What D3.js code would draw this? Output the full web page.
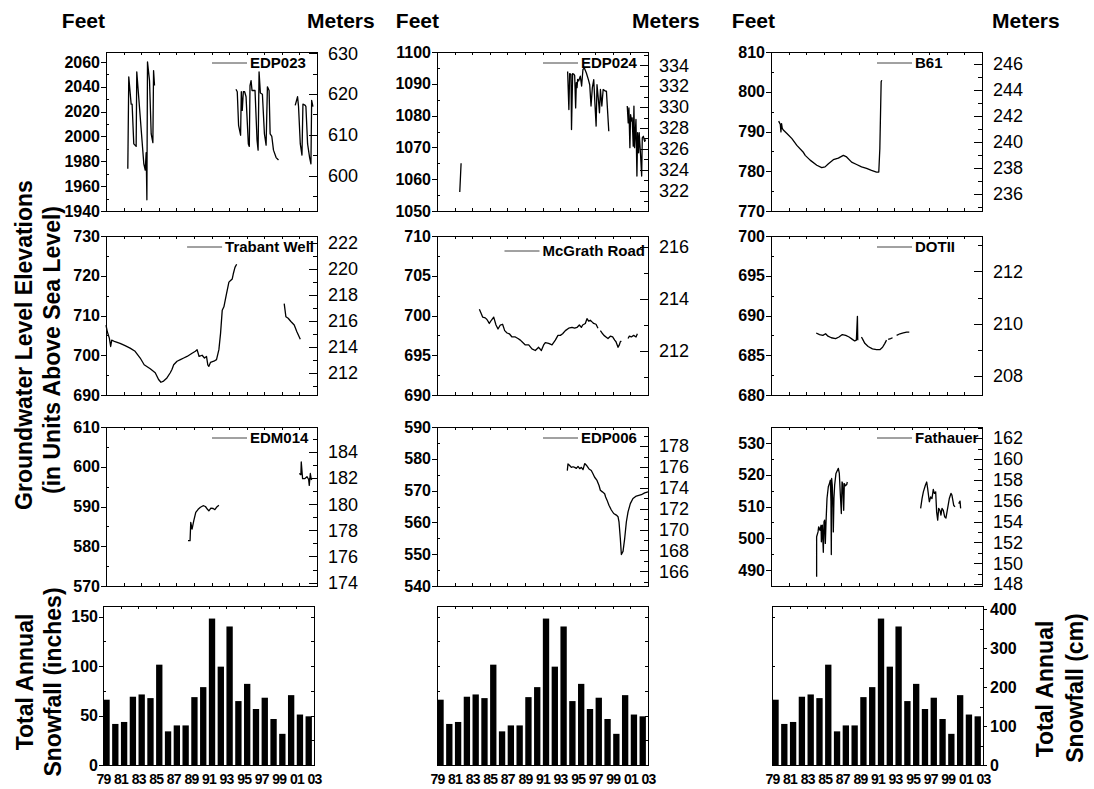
<!DOCTYPE html>
<html>
<head>
<meta charset="utf-8">
<script src="https://d3js.org/d3.v7.min.js"></script>
<style>
  body { margin: 0; background: #fff; }
  svg text { font-family: "Liberation Sans", Arial, sans-serif; }
</style>
</head>
<body>
<svg id="chart" width="1094" height="789"></svg>
<script>
const FONT = '"Liberation Sans", Arial, sans-serif';

// ---- data ----
// snowfall seasons 79..02, inches
const snowYears = d3.range(1979, 2003);
const snowfallInches = [66, 41.5, 43.5, 69, 71.3, 67.6, 101.4, 34, 40, 40, 68.6, 78.7,
                        148, 99.4, 140, 64.6, 82, 56.6, 68, 46.5, 31.5, 70.6, 51, 49.2];
const yearTicks = d3.range(1979, 2004, 2);

// well hydrographs: [decimal year, feet], null = gap
const edp023 = [
  [1981.48,1974],[1981.59,2048],[1981.86,2026],[1981.97,2026],[1982.16,1994],[1982.43,1992],[1982.5,2052],
  [1983.3,1978],[1983.46,1973],[1983.57,1987],[1983.65,1949],[1983.72,2060],[1983.95,2045],[1984.14,2002],
  [1984.33,1995],[1984.41,2053],[1984.52,2041],
  null,
  [1993.78,2038],[1993.93,2036],[1994.08,2009],[1994.31,2001],[1994.39,2036],[1994.5,2021],[1994.62,2036],
  [1994.77,2036],[1994.93,2032],[1995.19,1994],[1995.3,1992],[1995.38,2041],[1995.5,2045],[1995.61,2037],
  [1995.76,2037],[1995.95,2037],[1996.18,1997],[1996.3,1989],[1996.41,2052],[1996.56,2035],[1996.79,2034],
  [1997.02,2002],[1997.21,1993],[1997.36,2040],[1997.55,2037],[1997.67,2002],[1997.86,2000],[1998.05,1989],
  [1998.35,1983],[1998.62,1981],
  null,
  [2000.52,2025],[2000.79,2032],[2000.9,2024],[2001.1,1994],[2001.29,1985],[2001.4,2026],[2001.67,2025],
  [2001.74,2024],[2001.93,1994],[2002.16,1983],[2002.31,1978],[2002.39,2029],[2002.54,2024]
];
const edp024 = [
  [1981.59,1056],[1981.74,1065],
  null,
  [1993.86,1093.9],[1994.0,1081.9],[1994.09,1093.2],[1994.24,1093],[1994.3,1075.6],[1994.43,1093.2],
  [1994.58,1093],[1994.66,1092.6],[1994.77,1082.4],[1994.85,1090.4],[1994.93,1088.8],[1995.0,1091.4],
  [1995.11,1090.9],[1995.3,1092.4],[1995.45,1089.3],[1995.6,1094.5],[1995.76,1095],[1995.99,1093.4],
  [1996.22,1091.3],[1996.37,1089.7],[1996.52,1083],[1996.67,1088.8],[1996.83,1091.3],[1996.94,1085],
  [1997.1,1076.7],[1997.2,1089.7],[1997.36,1085],[1997.48,1080.9],[1997.59,1088.2],[1997.75,1083],
  [1997.9,1088.2],[1998.16,1087.7],[1998.27,1087.7],[1998.54,1075.1],
  null,
  [2000.64,1083],[2000.75,1077.7],[2000.83,1082.4],[2000.94,1069.9],[2001.02,1080.3],[2001.13,1078.3],
  [2001.2,1079.3],[2001.32,1070.4],[2001.4,1083],[2001.47,1069.9],[2001.63,1078.8],[2001.74,1061],
  [2001.82,1074.6],[2001.93,1068.3],[2002.0,1074.6],[2002.16,1067.3],[2002.28,1061],[2002.35,1073],
  [2002.47,1073.5],[2002.62,1071.9],[2002.73,1072.5]
];
const b61 = [
  [1979.87,792.6],[1980.06,791.8],[1980.13,789.9],[1980.2,792],[1980.28,790.8],[1980.43,790.3],
  [1980.81,789.5],[1981.38,788.2],[1981.94,786.5],[1982.7,784.7],[1982.89,784],[1983.45,782.8],
  [1984.21,781.5],[1984.77,780.9],[1985.15,781.1],[1985.53,781.9],[1986.09,782.9],[1986.66,783.3],
  [1987.23,784],[1987.6,783.6],[1988.17,782.3],[1988.74,781.7],[1989.3,781.1],[1989.87,780.7],
  [1990.43,780.2],[1991.0,779.8],[1991.26,779.8],[1991.38,785.7],[1991.53,802.5],[1991.6,802.9]
];
const trabant = [
  [1979.0,707.6],[1979.15,705.9],[1979.38,704.3],[1979.53,702.2],[1979.65,703.8],[1980.03,703.4],
  [1980.6,703],[1981.17,702.4],[1981.74,701.8],[1982.31,701],[1982.89,699.3],[1983.34,697.6],
  [1984.03,696.6],[1984.6,695.6],[1984.98,693.9],[1985.25,693.2],[1985.55,693.5],[1985.93,694.3],
  [1986.31,695.6],[1986.5,696.4],[1986.7,697.6],[1987.08,698.5],[1987.46,698.9],[1987.84,699.3],
  [1988.22,699.7],[1988.79,700.5],[1989.17,701],[1989.36,701.4],[1989.59,699.7],[1989.93,700],
  [1990.2,699.3],[1990.43,699.7],[1990.58,697.6],[1990.7,697.2],[1990.88,698.2],[1991.27,698.5],
  [1991.57,698.9],[1991.84,701.4],[1992.03,705.5],[1992.22,711.3],[1992.41,712.2],[1992.71,715.5],
  [1992.98,718.4],[1993.17,718.8],[1993.36,719.2],[1993.48,720.5],[1993.67,722.1],[1993.86,722.9],
  null,
  [1999.27,713],[1999.46,709.7],[1999.72,709.3],[2000.03,708.5],[2000.41,707.6],[2000.71,705.9],[2001.1,704]
];
const mcgrath = [
  [1983.82,700.8],[1984.05,700.2],[1984.19,699.8],[1984.49,699.7],[1984.68,699.5],[1984.95,699],
  [1985.18,699.4],[1985.45,699.8],[1985.71,698.8],[1985.94,698.3],[1986.2,698.8],[1986.46,698.9],
  [1986.7,698.1],[1986.97,697.8],[1987.23,697.7],[1987.53,697.3],[1987.91,697.3],[1988.21,697.1],
  [1988.48,696.9],[1988.67,696.7],[1989.05,696.3],[1989.43,696.3],[1989.8,695.8],[1990.18,695.6],
  [1990.56,696],[1990.87,695.6],[1991.13,696.3],[1991.32,696.6],[1991.7,696.5],[1992.08,696.3],
  [1992.46,696.9],[1992.76,697.5],[1993.03,697.5],[1993.29,697.7],[1993.6,698.1],[1993.98,698.4],
  [1994.35,698.5],[1994.66,698.4],[1994.92,698.5],[1995.19,698.8],[1995.42,698.5],[1995.57,698.8],
  [1995.87,699],[1996.06,699.6],[1996.25,699.3],[1996.44,699.4],[1996.63,699.2],[1996.82,699],
  [1997.09,698.9],[1997.31,698.4],
  null,
  [1997.58,698.1],[1997.77,697.8],[1997.99,697.5],[1998.22,697.3],[1998.45,697.1],[1998.72,697.4],
  [1998.98,697.3],[1999.21,696.9],[1999.36,696.7],[1999.59,696],[1999.74,696.3],[1999.85,696.7],[1999.97,696.8],
  null,
  [2000.73,697.1],[2000.88,697.4],[2001.1,697.3],[2001.37,697.5],[2001.64,697.3],[2001.79,697.7]
];
const dotii = [
  [1984.14,687.8],[1984.52,687.6],[1984.9,687.5],[1985.21,687.7],[1985.48,687.4],[1985.86,687.2],
  [1986.35,687.1],[1986.73,687.3],[1987.11,687.6],[1987.5,687.5],[1987.88,687.3],[1988.26,687],
  [1988.52,686.8],[1988.71,686.9],[1988.83,689.9],[1988.87,686.9],
  null,
  [1989.29,687.3],[1989.48,686.9],[1989.67,686.5],[1990.05,686.1],[1990.54,685.8],[1991.0,685.7],
  [1991.38,685.7],[1991.69,686],[1991.95,686.5],[1992.14,686.9],
  null,
  [1992.33,687],[1992.6,687.1],[1992.83,687.2],
  null,
  [1993.29,687.5],[1993.67,687.7],[1994.05,687.8],[1994.43,687.9],[1994.73,687.9]
];
const edm014 = [
  [1988.33,581.4],[1988.56,581.4],[1988.64,586],[1988.79,584.3],[1988.98,586.4],[1989.21,588.5],
  [1989.48,589.3],[1989.74,589.8],[1990.05,590.2],[1990.31,590],[1990.54,589.3],[1990.7,588.9],
  [1990.93,589.6],[1991.19,589.5],[1991.38,589.2],[1991.57,589.8],[1991.84,590.3],
  null,
  [2000.98,598.3],[2001.17,598],[2001.21,601.2],[2001.36,597],[2001.59,597],[2001.86,597.5],
  [2002.05,596.8],[2002.12,595.3],[2002.24,598.3],[2002.35,596.8],[2002.43,597]
];
const edp006 = [
  [1993.82,576.3],[1993.9,578.4],[1994.09,577.9],[1994.28,577.3],[1994.47,577.5],[1994.66,577.3],
  [1994.85,577],[1995.04,577.6],[1995.23,576.9],[1995.42,577.3],[1995.61,576.6],[1995.8,578.5],
  [1995.99,578],[1996.29,576.8],[1996.55,576.3],[1996.74,575.3],[1996.93,574.2],[1997.2,573.2],
  [1997.43,571.6],[1997.58,570.1],[1997.81,569.6],[1998.07,569],[1998.18,568],[1998.34,567],
  [1998.56,565.4],[1998.83,563.9],[1999.1,562.8],[1999.4,562.3],[1999.59,561.8],[1999.7,560.2],
  [1999.85,555],[1999.97,549.9],[2000.16,550.9],[2000.35,555],[2000.54,560.2],[2000.73,563.3],
  [2000.99,565.9],[2001.29,567.5],[2001.67,568.3],[2002.24,568.7],[2002.62,569.3],[2003.0,569.6]
];
const fathauer = [
  [1984.19,487.9],[1984.19,500.5],[1984.35,502],[1984.42,503.6],[1984.57,502.5],[1984.69,504.1],
  [1984.73,498.9],[1984.84,504.1],[1984.95,495.6],[1985.03,505.2],[1985.1,505.7],[1985.18,498.4],
  [1985.26,505.2],[1985.37,512.5],[1985.52,516.2],[1985.64,517.2],[1985.75,518.3],[1985.82,511.5],
  [1985.86,494.9],[1985.9,518.8],[1985.97,516.7],[1986.05,509.4],[1986.09,502],[1986.16,512.5],
  [1986.24,516.7],[1986.39,520.4],[1986.66,522],[1986.77,520.4],[1986.89,513.6],[1987.0,507.8],
  [1987.08,517.7],[1987.16,517.2],[1987.27,508.8],[1987.34,517.2],[1987.46,516.5],[1987.61,516.9],
  [1987.68,517.7],
  null,
  [1996.02,509.4],[1996.18,512.5],[1996.33,514.6],[1996.56,516.7],[1996.71,517.7],[1996.82,515.6],
  [1997.01,511.5],[1997.16,513],[1997.31,512.5],[1997.46,515.4],[1997.58,514.1],[1997.73,514.6],
  [1997.84,508.3],[1997.96,505.7],[1998.07,509.4],[1998.22,508.8],[1998.33,507.3],[1998.45,509.4],
  [1998.6,508.8],[1998.75,506.8],[1998.9,506.4],[1999.09,509.4],[1999.28,512.5],[1999.47,514.1],
  [1999.58,513.6],[1999.78,510.4],[1999.93,509.9],
  null,
  [2000.35,510.9],[2000.5,511.7],[2000.57,509.4]
];

// name, series, feet domain, feet major/minor step, meters major/minor step
const wells = [
  {name: "EDP023",       data: edp023,   ft: [1940, 2068], fMaj: 20, fMin: 10,  mMaj: 10, mMin: 5},
  {name: "EDP024",       data: edp024,   ft: [1050, 1100], fMaj: 10, fMin: 5,   mMaj: 2,  mMin: 1},
  {name: "B61",          data: b61,      ft: [770, 810],   fMaj: 10, fMin: 5,   mMaj: 2,  mMin: 1},
  {name: "Trabant Well", data: trabant,  ft: [690, 730],   fMaj: 10, fMin: 5,   mMaj: 2,  mMin: 1},
  {name: "McGrath Road", data: mcgrath,  ft: [690, 710],   fMaj: 5,  fMin: 2.5, mMaj: 2,  mMin: 1},
  {name: "DOTII",        data: dotii,    ft: [680, 700],   fMaj: 5,  fMin: 2.5, mMaj: 2,  mMin: 1},
  {name: "EDM014",       data: edm014,   ft: [570, 610],   fMaj: 10, fMin: 5,   mMaj: 2,  mMin: 1},
  {name: "EDP006",       data: edp006,   ft: [540, 590],   fMaj: 10, fMin: 5,   mMaj: 2,  mMin: 1},
  {name: "Fathauer",     data: fathauer, ft: [485, 535],   fMaj: 10, fMin: 5,   mMaj: 2,  mMin: 1}
];

// ---- layout ----
const ctx = {
  pw: 211, ph: 159,
  lineCols: [106, 437, 771],
  barCols: [103, 437, 772],
  rows: [52, 236, 427, 606],
  ftPerM: 1 / 0.3048, inToCm: 2.54,
  snowMax: 160.7
};

const svg = d3.select("#chart");
const xYear = d3.scaleLinear().domain([1979, 2003]).range([0, ctx.pw]);

function stepValues(lo, hi, step) {
  const out = [];
  for (let v = Math.ceil(lo / step - 1e-9) * step; v <= hi + 1e-9; v += step) out.push(+v.toFixed(6));
  return out;
}
function minorOnly(lo, hi, minor, major) {
  return stepValues(lo, hi, minor).filter(v => Math.abs(v / major - Math.round(v / major)) > 1e-6);
}
function addAxis(g, gen, values, size, pad, fmt) {
  let a = g.append("g")
    .call(gen.tickValues(values).tickSize(size).tickPadding(pad).tickFormat(fmt || (() => "")));
  a.select(".domain").remove();
  a.attr("font-family", FONT).attr("font-size", null);
  a.selectAll("line").attr("stroke", "#000").attr("shape-rendering", "crispEdges");
  return a;
}

function drawWell(well, i) {
  let x0 = ctx.lineCols[i % 3], y0 = ctx.rows[Math.floor(i / 3)];
  let g = svg.append("g").attr("transform", `translate(${x0},${y0})`);
  let y = d3.scaleLinear().domain(well.ft).range([ctx.ph, 0]);
  let mDom = well.ft.map(f => f / ctx.ftPerM);
  let ym = d3.scaleLinear().domain(mDom).range([ctx.ph, 0]);

  // x ticks top/bottom, inward
  addAxis(g, d3.axisTop(xYear), yearTicks, -3, 0);
  addAxis(g.append("g").attr("transform", `translate(0,${ctx.ph})`), d3.axisBottom(xYear), yearTicks, -3, 0);

  // feet axis (left)
  let fMajor = stepValues(well.ft[0], well.ft[1], well.fMaj);
  addAxis(g, d3.axisLeft(y), fMajor, 5, 1, d3.format("d"))
    .attr("font-size", 16).attr("font-weight", "bold");
  addAxis(g, d3.axisLeft(y), minorOnly(well.ft[0], well.ft[1], well.fMin, well.fMaj), -3, 0);

  // meters axis (right)
  let rg = g.append("g").attr("transform", `translate(${ctx.pw},0)`);
  addAxis(rg, d3.axisRight(ym), stepValues(mDom[0], mDom[1], well.mMaj), -8, 11, d3.format("d"))
    .attr("font-size", 18);
  addAxis(rg, d3.axisRight(ym), minorOnly(mDom[0], mDom[1], well.mMin, well.mMaj), -4, 0);

  g.append("rect").attr("width", ctx.pw).attr("height", ctx.ph)
    .attr("fill", "none").attr("stroke", "#000").attr("shape-rendering", "crispEdges");

  let line = d3.line().defined(d => d !== null).x(d => xYear(d[0])).y(d => y(d[1]));
  g.append("path").datum(well.data).attr("d", line)
    .attr("fill", "none").attr("stroke", "#000").attr("stroke-width", 1.3)
    .attr("stroke-linejoin", "round");

  // legend
  let lg = g.append("g");
  let ly = well.name === "McGrath Road" ? 15 : 11;
  let txt = lg.append("text").attr("y", ly).attr("dy", "0.35em")
    .attr("font-size", 15).attr("font-weight", "bold").text(well.name);
  let tw = txt.node().getComputedTextLength();
  let lx = 106;
  if (lx + 38 + tw > ctx.pw - 2) lx = ctx.pw - 3 - tw - 38;
  lg.append("line").attr("x1", lx).attr("x2", lx + 35).attr("y1", ly).attr("y2", ly)
    .attr("stroke", "#444").attr("stroke-width", 1);
  txt.attr("x", lx + 38);
}

function drawSnow(col) {
  let x0 = ctx.barCols[col], y0 = ctx.rows[3];
  let g = svg.append("g").attr("transform", `translate(${x0},${y0})`);
  let y = d3.scaleLinear().domain([0, ctx.snowMax]).range([ctx.ph, 0]);

  g.selectAll("rect.bar").data(snowfallInches).enter().append("rect")
    .attr("class", "bar")
    .attr("x", (d, j) => xYear(snowYears[j] + 0.04))
    .attr("width", xYear(1979.76) - xYear(1979.04))
    .attr("y", d => y(d))
    .attr("height", d => ctx.ph - y(d))
    .attr("fill", "#000");

  addAxis(g, d3.axisTop(xYear), yearTicks, -3, 0);
  addAxis(g.append("g").attr("transform", `translate(0,${ctx.ph})`), d3.axisBottom(xYear),
          yearTicks, 0, 9, d => String(d % 100).padStart(2, "0"))
    .attr("font-size", 14).attr("font-weight", "bold").attr("letter-spacing", "-0.8");

  let rg = g.append("g").attr("transform", `translate(${ctx.pw},0)`);
  if (col === 0) {
    addAxis(g, d3.axisLeft(y), [0, 50, 100, 150], 4, 1, d3.format("d"))
      .attr("font-size", 16).attr("font-weight", "bold");
    addAxis(g, d3.axisLeft(y), [25, 75, 125], -3, 0);
    addAxis(rg, d3.axisRight(y), stepValues(25, 150, 25), -3, 0);
  } else if (col === 1) {
    addAxis(g, d3.axisLeft(y), stepValues(25, 150, 25), -3, 0);
    addAxis(rg, d3.axisRight(y), stepValues(25, 150, 25), -3, 0);
  } else {
    let ycm = d3.scaleLinear().domain([0, ctx.snowMax * ctx.inToCm]).range([ctx.ph, 0]);
    addAxis(g, d3.axisLeft(y), [50, 100, 150], -3, 0);
    addAxis(rg, d3.axisRight(ycm), [0, 100, 200, 300, 400], 4, 3, d3.format("d"))
      .attr("font-size", 16).attr("font-weight", "bold");
    addAxis(rg, d3.axisRight(ycm), [50, 150, 250, 350], -3, 0);
  }

  g.append("rect").attr("width", ctx.pw).attr("height", ctx.ph)
    .attr("fill", "none").attr("stroke", "#000").attr("shape-rendering", "crispEdges");
}

wells.forEach(drawWell);
[0, 1, 2].forEach(drawSnow);

// column unit headers
const feetEnd = [105, 439, 775], metersStart = [307, 632, 992];
[0, 1, 2].forEach(c => {
  svg.append("text").attr("x", feetEnd[c]).attr("y", 28).attr("text-anchor", "end")
    .attr("font-size", 21).attr("font-weight", "bold").text("Feet");
  svg.append("text").attr("x", metersStart[c]).attr("y", 28)
    .attr("font-size", 21).attr("font-weight", "bold").text("Meters");
});

// rotated titles
function vText(x, y, s) {
  svg.append("text").attr("transform", `translate(${x},${y}) rotate(-90)`)
    .attr("text-anchor", "middle").attr("font-size", 23).attr("font-weight", "bold").text(s);
}
vText(32, 345, "Groundwater Level Elevations");
vText(60, 350, "(in Units Above Sea Level)");
vText(33, 682, "Total Annual");
vText(61, 682, "Snowfall (inches)");
vText(1053, 689, "Total Annual");
vText(1083, 688, "Snowfall (cm)");
</script>
</body>
</html>
